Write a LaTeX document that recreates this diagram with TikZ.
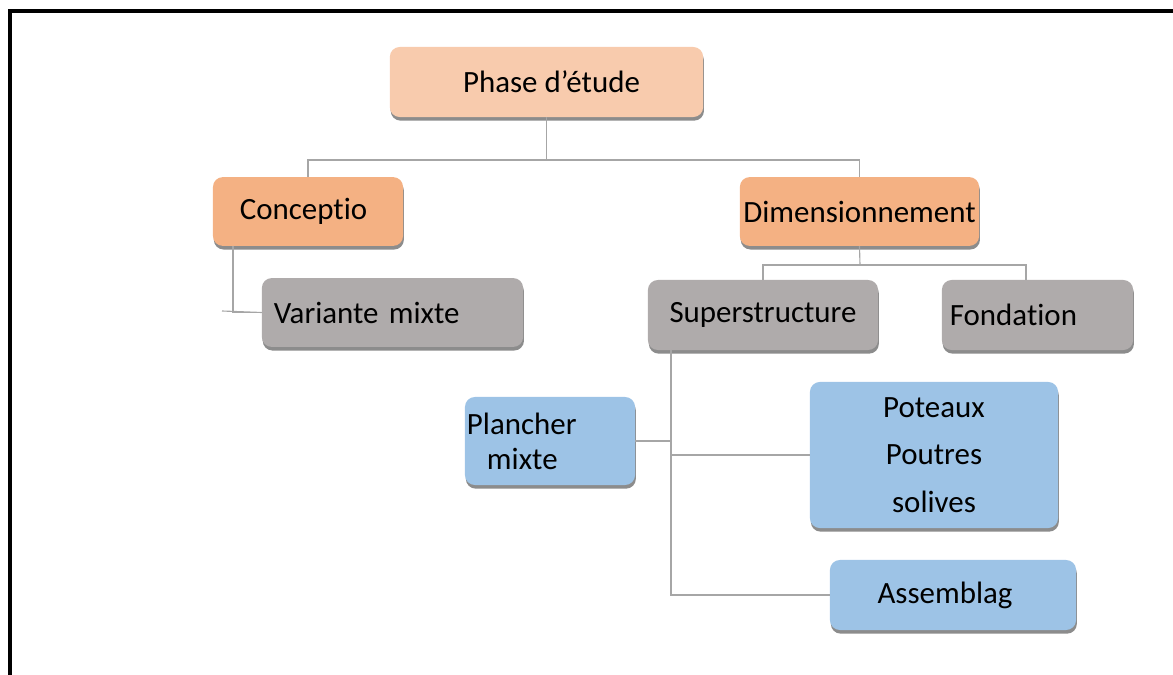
\documentclass[tikz,border=0pt]{standalone}
\usepackage{fontspec}
\setmainfont{Carlito}[Ligatures=NoCommon]
\usetikzlibrary{positioning, shadows}
\definecolor{peach}{HTML}{F8CBAD}
\definecolor{orng}{HTML}{F4B183}
\definecolor{stone}{HTML}{AFABAB}
\definecolor{skyblue}{HTML}{9DC3E6}
\definecolor{linkgray}{HTML}{A6A6A6}

\begin{document}
\begin{tikzpicture}[
  x=0.025cm, y=-0.025cm,
  box/.style={fill=#1, rounded corners=7pt, inner sep=2pt,
    font=\fontsize{22}{26}\selectfont, text=black,
    drop shadow={shadow xshift=0.6pt, shadow yshift=-2.6pt, opacity=0.45, fill=black}},
  leftbox/.style={box=#1, align=left},
  link/.style={draw=linkgray, line width=0.8pt},
]

% Frame
\useasboundingbox (0,0) rectangle (1173,675);
\draw[line width=2.8pt] (10,675) -- (10,11) -- (1173,11);

% === Level 1 ===
\node[box=peach, minimum width=7.83cm, minimum height=1.75cm] (phase) at (546.5,82) {\hspace*{0.25cm}Phase d’étude};

% === Level 2 ===
\node[leftbox=orng, minimum height=1.72cm, text width=3.41cm, inner xsep=0.67cm] (concep) at (308,211.5) {Conceptio};
\node[box=orng, minimum width=5.98cm, minimum height=1.72cm] (dimen) at (859.5,211.5) {Dimensionnement};

% === Level 3 ===
\node[leftbox=stone, minimum height=1.72cm, text width=5.93cm, inner xsep=0.3cm] (variante) at (392.5,312.5) {Variante mixte};
\node[box=stone, minimum width=5.75cm, minimum height=1.75cm] (superstr) at (763,315) {Superstructure};
\node[leftbox=stone, minimum height=1.75cm, text width=4.38cm, inner xsep=0.2cm] (fond) at (1037.5,315) {Fondation};

% === Level 4 ===
\node[leftbox=skyblue, font=\fontsize{22}{25}\selectfont, minimum height=2.2cm,
  text width=4.15cm, inner xsep=0.05cm] (plancher) at (550,441) {Plancher\\\hspace*{0.5cm}mixte};
\node[box=skyblue, font=\fontsize{22}{34}\selectfont, align=center,
  minimum width=6.2cm, minimum height=3.65cm] (poteaux) at (934,455) {Poteaux\\Poutres\\solives};
\node[box=skyblue, minimum width=6.15cm, minimum height=1.75cm] (assemb) at (953,595) {\hspace*{-0.4cm}Assemblag};

% === Connectors ===
\coordinate (j1) at (546.5,160);
\draw[link] (phase) -- (j1);
\draw[link] (concep.north) |- (j1) -| (dimen.north);

\coordinate (ctop) at (233,246);
\coordinate (cstub) at (222,311);
\draw[link] (ctop) |- (variante.west);
\draw[link] (cstub) -- (variante.west);

\coordinate (j2) at (860,265);
\coordinate (ftop) at (1026,280);
\draw[link] (dimen.south) -- (j2);
\draw[link] (superstr.north) |- (j2) -| (ftop);

\coordinate (sv) at (671,350);
\draw[link] (sv) |- (assemb.west);
\draw[link] (sv |- poteaux.west) -- (poteaux.west);
\draw[link] (plancher.east) -- (sv |- plancher.east);

\end{tikzpicture}
\end{document}
